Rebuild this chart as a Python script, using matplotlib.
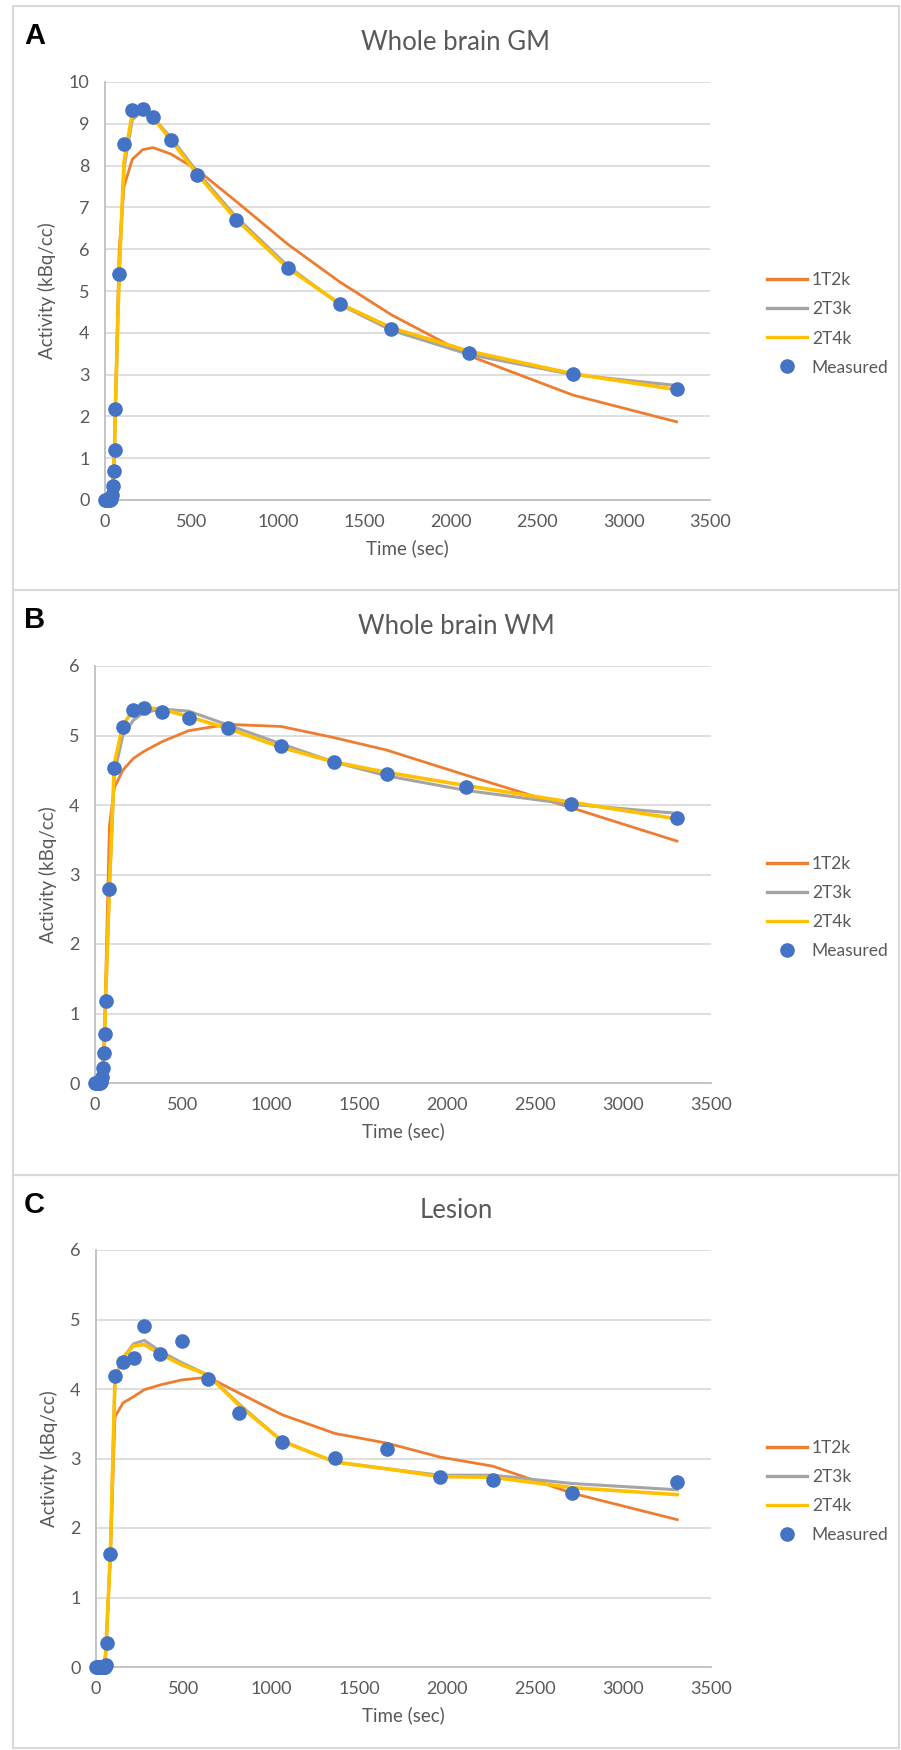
import matplotlib
matplotlib.use("Agg")
import matplotlib.pyplot as plt
from matplotlib.patches import Rectangle
from matplotlib.lines import Line2D

plt.rcParams['font.family'] = ['Lato', 'DejaVu Sans']

# frame mid-times (sec)
time_ab = [0, 5, 10, 15, 20, 25, 30, 35, 40, 45, 50, 55, 60, 82, 110, 158, 218, 277,
           380, 533, 757, 1057, 1357, 1657, 2107, 2707, 3307]
time_c = [0, 5, 10, 15, 20, 25, 30, 35, 40, 45, 50, 55, 60, 82, 108, 154, 214, 275,
          367, 487, 638, 816, 1059, 1360, 1658, 1958, 2257, 2711, 3308]

# Whole brain GM
gm_meas = [0, 0, 0, 0, 0, 0, 0, 0.02, 0.12, 0.33, 0.69, 1.20, 2.18, 5.41, 8.51, 9.32, 9.36, 9.16,
           8.62, 7.78, 6.71, 5.55, 4.69, 4.09, 3.52, 3.01, 2.66]
gm_1t2k = [0, 0, 0, 0, 0, 0, 0, 0.05, 0.18, 0.42, 0.80, 1.35, 2.35, 6.00, 7.50, 8.15, 8.38, 8.43,
           8.28, 7.90, 7.15, 6.12, 5.22, 4.43, 3.45, 2.51, 1.87]
gm_2t3k = [0, 0, 0, 0, 0, 0, 0, 0.03, 0.12, 0.33, 0.68, 1.18, 2.15, 5.40, 7.95, 9.10, 9.30, 9.15,
           8.68, 7.85, 6.78, 5.60, 4.68, 4.06, 3.48, 3.00, 2.74]
gm_2t4k = [0, 0, 0, 0, 0, 0, 0, 0.03, 0.12, 0.33, 0.68, 1.18, 2.15, 5.45, 8.10, 9.25, 9.32, 9.15,
           8.62, 7.80, 6.72, 5.55, 4.70, 4.12, 3.56, 3.02, 2.64]

# Whole brain WM
wm_meas = [0, 0, 0, 0, 0, 0, 0, 0.02, 0.09, 0.21, 0.43, 0.70, 1.18, 2.79, 4.53, 5.12, 5.37, 5.39,
           5.34, 5.25, 5.11, 4.85, 4.62, 4.45, 4.26, 4.02, 3.82]
wm_1t2k = [0, 0, 0, 0, 0, 0, 0, 0.04, 0.12, 0.28, 0.52, 0.85, 1.40, 3.70, 4.25, 4.50, 4.67, 4.77,
           4.91, 5.07, 5.16, 5.13, 4.97, 4.79, 4.43, 3.96, 3.48]
wm_2t3k = [0, 0, 0, 0, 0, 0, 0, 0.02, 0.09, 0.21, 0.43, 0.70, 1.18, 2.80, 4.45, 5.00, 5.22, 5.33,
           5.38, 5.35, 5.15, 4.88, 4.62, 4.42, 4.21, 4.01, 3.88]
wm_2t4k = [0, 0, 0, 0, 0, 0, 0, 0.02, 0.09, 0.21, 0.43, 0.70, 1.18, 2.85, 4.60, 5.15, 5.37, 5.40,
           5.38, 5.27, 5.10, 4.83, 4.62, 4.47, 4.28, 4.04, 3.80]

# Lesion
les_meas = [0, 0, 0, 0, 0, 0, 0, 0, 0, 0, 0, 0.03, 0.35, 1.63, 4.19, 4.39, 4.45, 4.90,
            4.50, 4.69, 4.15, 3.66, 3.24, 3.01, 3.14, 2.73, 2.69, 2.51, 2.66]
les_1t2k = [0, 0, 0, 0, 0, 0, 0, 0, 0.01, 0.03, 0.08, 0.20, 0.45, 1.60, 3.60, 3.80, 3.89, 3.99,
            4.06, 4.13, 4.17, 3.94, 3.63, 3.36, 3.22, 3.02, 2.89, 2.50, 2.12]
les_2t3k = [0, 0, 0, 0, 0, 0, 0, 0, 0.01, 0.03, 0.08, 0.20, 0.45, 1.65, 4.15, 4.45, 4.65, 4.70,
            4.54, 4.38, 4.20, 3.78, 3.25, 2.95, 2.85, 2.76, 2.76, 2.64, 2.55]
les_2t4k = [0, 0, 0, 0, 0, 0, 0, 0, 0.01, 0.03, 0.08, 0.20, 0.45, 1.65, 4.15, 4.45, 4.62, 4.64,
            4.50, 4.35, 4.20, 3.76, 3.25, 2.95, 2.85, 2.74, 2.73, 2.58, 2.48]

panel_letters = ['A', 'B', 'C']
panel_titles = ['Whole brain GM', 'Whole brain WM', 'Lesion']
y_maxes = [10, 6, 6]
model_names = ['1T2k', '2T3k', '2T4k']
colors = ['#ED7D31', '#A5A5A5', '#FFC000']
meas_color = '#4472C4'
txt_color = '#595959'

panels = [
    (time_ab, gm_meas, [gm_1t2k, gm_2t3k, gm_2t4k]),
    (time_ab, wm_meas, [wm_1t2k, wm_2t3k, wm_2t4k]),
    (time_c, les_meas, [les_1t2k, les_2t3k, les_2t4k]),
]

W, H = 901, 1750
fig = plt.figure(figsize=(W / 100, H / 100), dpi=100)

# layout in pixels: (panel box top, box bottom, ax left, ax right, ax top, ax bottom)
layout = [
    (6, 590, 105, 710, 82, 500),
    (590, 1175, 95, 711, 666, 1083),
    (1175, 1748, 96, 711, 1250, 1667),
]

for i, (t, meas, models) in enumerate(panels):
    btop, bbot, l, r, top, bot = layout[i]
    fig.add_artist(Rectangle((13 / W, 1 - bbot / H), 886 / W, (bbot - btop) / H,
                             transform=fig.transFigure, fill=False,
                             edgecolor='#D9D9D9', linewidth=1.5))
    ax = fig.add_axes([l / W, 1 - bot / H, (r - l) / W, (bot - top) / H])
    for name, vals, c, lw in zip(model_names, models, colors, [2.0, 2.2, 2.6]):
        ax.plot(t, vals, color=c, lw=lw, label=name, solid_joinstyle='round')
    ax.plot(t, meas, 'o', color=meas_color, markersize=9.5, label='Measured', zorder=5,
            clip_on=False)

    ax.set_xlim(0, 3500)
    ax.set_ylim(0, y_maxes[i])
    ax.set_xticks(range(0, 3501, 500))
    ax.set_yticks(range(0, y_maxes[i] + 1))
    ax.grid(axis='y', color='#D9D9D9', lw=1.2)
    ax.set_axisbelow(True)
    for s in ['top', 'right']:
        ax.spines[s].set_visible(False)
    for s in ['left', 'bottom']:
        ax.spines[s].set_color('#BFBFBF')
        ax.spines[s].set_linewidth(1.3)
    ax.tick_params(length=0, colors=txt_color, labelsize=13)
    ax.tick_params(axis='y', pad=11)
    ax.tick_params(axis='x', pad=10)
    ax.set_xlabel('Time (sec)', color=txt_color, fontsize=13.5, labelpad=7)
    ax.set_ylabel('Activity (kBq/cc)', color=txt_color, fontsize=13.5, labelpad=9)

    fig.text(456 / W, 1 - (btop + 36) / H, panel_titles[i], ha='center', va='center',
             fontsize=18.5, color=txt_color)
    fig.text(24 / W, 1 - (btop + 30) / H, panel_letters[i], ha='left', va='center',
             fontsize=21, fontweight='bold', family='Liberation Sans', color='black')

    handles = [Line2D([], [], color=c, lw=2.4) for c in colors]
    handles.append(Line2D([], [], ls='none', marker='o', color=meas_color, markersize=9.5))
    ax.legend(handles, model_names + ['Measured'], loc='center left',
              bbox_to_anchor=(758 / W, 1 - ((top + bot) / 2 + 33) / H),
              bbox_transform=fig.transFigure, frameon=False, fontsize=12.5,
              labelcolor=txt_color, handlelength=2.3, handletextpad=0.3,
              labelspacing=0.75, borderpad=0)

fig.savefig('out.png', dpi=100, facecolor='white')
